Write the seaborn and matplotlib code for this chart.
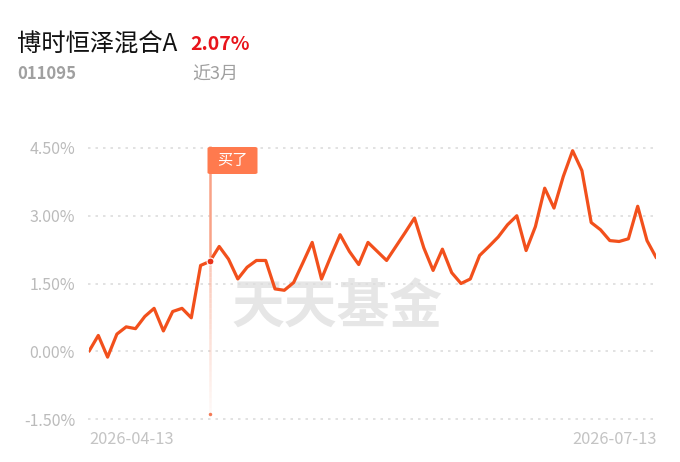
import numpy as np
import pandas as pd
import matplotlib
matplotlib.use("Agg")
import matplotlib.pyplot as plt
import seaborn as sns
from matplotlib.patches import FancyBboxPatch

# ---- data ----
returns = [0.00, 0.35, -0.13, 0.38, 0.54, 0.50, 0.77, 0.95, 0.45, 0.88,
           0.95, 0.74, 1.90, 1.99, 2.32, 2.04, 1.60, 1.86, 2.01, 2.01,
           1.38, 1.35, 1.52, 1.96, 2.41, 1.60, 2.10, 2.58, 2.21, 1.92,
           2.41, 2.21, 2.01, 2.32, 2.63, 2.95, 2.29, 1.79, 2.26, 1.74,
           1.50, 1.60, 2.12, 2.32, 2.53, 2.80, 3.00, 2.23, 2.76, 3.61,
           3.17, 3.87, 4.44, 4.00, 2.85, 2.69, 2.45, 2.43, 2.49, 3.21,
           2.45, 2.07]
y_ticks = [-1.5, 0.0, 1.5, 3.0, 4.5]
y_tick_labels = ["-1.50%", "0.00%", "1.50%", "3.00%", "4.50%"]
date_labels = ["2026-04-13", "2026-07-13"]
buy_index = 13
buy_label = "买了"
fund_name = "博时恒泽混合A"
fund_code = "011095"
period_return = "2.07%"
period_label = "近3月"
watermark = "天天基金"

df = pd.DataFrame({"idx": np.arange(len(returns)), "ret": returns})

sns.set_theme(style="white")
plt.rcParams["font.family"] = ["Noto Sans CJK SC", "DejaVu Sans"]

W, H = 680, 462
fig = plt.figure(figsize=(W / 100, H / 100), dpi=100)
fig.patch.set_facecolor("white")

left_px, right_px = 89, 656.3
top_px, bot_px = 148, 419
ax = fig.add_axes([left_px / W, 1 - bot_px / H, (right_px - left_px) / W, (bot_px - top_px) / H])
ax.set_facecolor("none")

# watermark (behind the line)
ax.text(337 / W, 1 - 308 / H, watermark, transform=fig.transFigure, ha="center", va="center",
        fontsize=38, fontweight="bold", color="#E6E6E6", zorder=0.5, clip_on=False)

# gridlines
for yt in y_ticks:
    ax.plot([-0.1, 61.1], [yt, yt], color="#DDDDDD", lw=1.2, ls=(0, (1.5, 3)), zorder=1, clip_on=False)

# buy marker pole
buy_val = returns[buy_index]
ax.plot([buy_index, buy_index], [buy_val, 4.55], color="#F9A287", lw=1.8, zorder=2,
        solid_capstyle="butt", clip_on=False)
segs = np.linspace(buy_val, -1.35, 30)
for i in range(len(segs) - 1):
    a = 0.55 * (1 - i / (len(segs) - 1)) + 0.05
    ax.plot([buy_index, buy_index], [segs[i], segs[i + 1]], color="#F9A287", lw=1.8, alpha=a,
            zorder=2, solid_capstyle="butt")
ax.plot([buy_index], [-1.4], marker="o", ms=2.5, color="#F47A55", mec="none", zorder=2)

# main line
sns.lineplot(data=df, x="idx", y="ret", ax=ax, color="#F2501C", lw=2.3, zorder=3, legend=False)
ax.plot([buy_index], [buy_val], marker="o", ms=5, color="#E8321A", mec="white", mew=0.8, zorder=4)

# flag
fx0 = (207.5 - left_px) / (right_px - left_px) * 61
fx1 = (257.5 - left_px) / (right_px - left_px) * 61
def py2v(p):
    return 4.5 - (p - top_px) / (bot_px - top_px) * 6.0
fy0, fy1 = py2v(174), py2v(147)
flag = FancyBboxPatch((fx0, fy0), fx1 - fx0, fy1 - fy0,
                      boxstyle="round,pad=0,rounding_size=0.3", fc="#FF7A4E", ec="none",
                      zorder=5, clip_on=False, mutation_aspect=0.1)
ax.add_patch(flag)
ax.text((fx0 + fx1) / 2, (fy0 + fy1) / 2, buy_label, ha="center", va="center",
        fontsize=11, color="white", zorder=6, clip_on=False)

ax.set_xlim(0, 61)
ax.set_ylim(-1.5, 4.5)
ax.set_yticks(y_ticks)
ax.set_yticklabels(y_tick_labels)
ax.set_xticks([])
ax.set_xlabel("")
ax.set_ylabel("")
ax.tick_params(axis="y", length=0, pad=10, labelsize=11.5, labelcolor="#BBBBBB")
for s in ax.spines.values():
    s.set_visible(False)

# date labels
fig.text(89 / W, 1 - 440 / H, date_labels[0], ha="left", va="center", fontsize=11.8, color="#C4C4C4")
fig.text(657 / W, 1 - 440 / H, date_labels[1], ha="right", va="center", fontsize=11.8, color="#C4C4C4")

# header
fig.text(17 / W, 1 - 45 / H, fund_name, ha="left", va="center", fontsize=17.5, color="#111111")
fig.text(190 / W, 1 - 45 / H, period_return, ha="left", va="center", fontsize=14, fontweight="bold",
         color="#E8141B")
fig.text(17 / W, 1 - 74 / H, fund_code, ha="left", va="center", fontsize=12, fontweight="bold",
         color="#A0A0A0")
fig.text(192 / W, 1 - 74 / H, period_label, ha="left", va="center", fontsize=13, color="#A0A0A0")

fig.savefig("out.png", dpi=100, facecolor="white")
